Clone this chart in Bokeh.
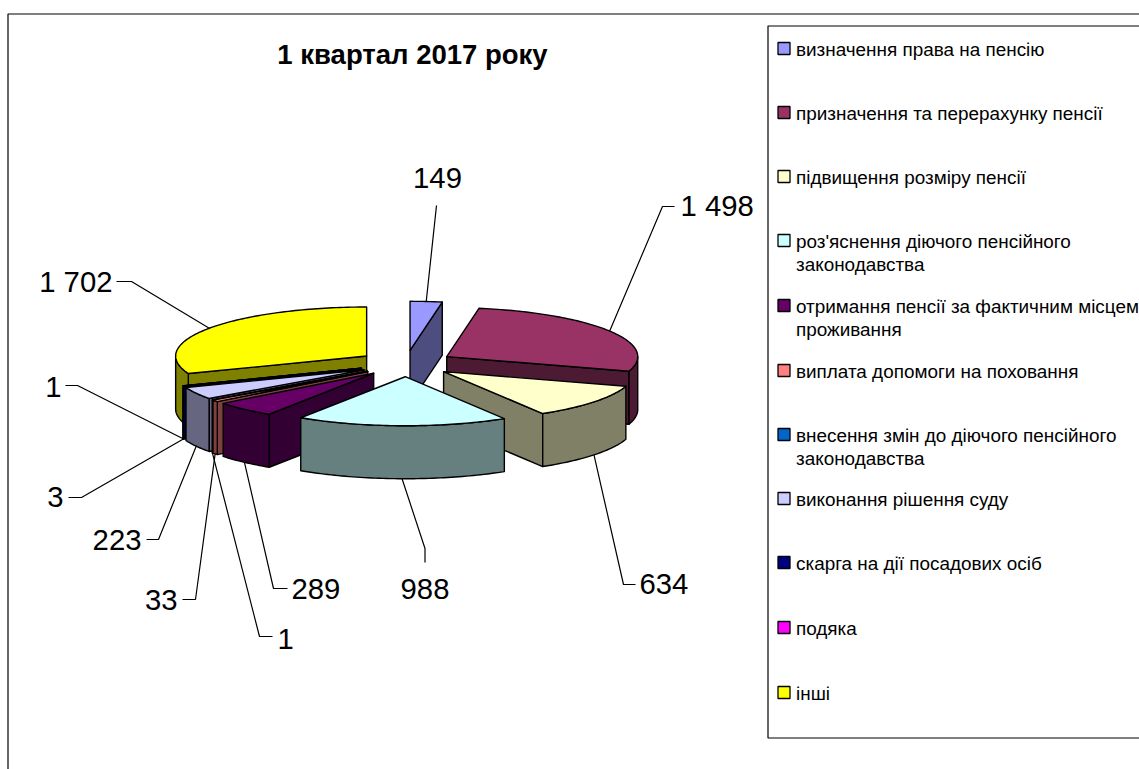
import math
from bokeh.plotting import figure
from bokeh.models import Range1d
from bokeh.core.properties import value
from bokeh.embed import file_html
from bokeh.resources import INLINE

title = "1 квартал 2017 року"
categories = [
    "визначення права на пенсію",
    "призначення та перерахунку пенсії",
    "підвищення розміру пенсії",
    "роз'яснення діючого пенсійного\nзаконодавства",
    "отримання пенсії за фактичним місцем\nпроживання",
    "виплата допомоги на поховання",
    "внесення змін до діючого пенсійного\nзаконодавства",
    "виконання рішення суду",
    "скарга на дії посадових осіб",
    "подяка",
    "інші",
]
values = [149, 1498, 634, 988, 289, 33, 1, 223, 3, 1, 1702]
top_colors = ["#9999FF", "#993366", "#FFFFCC", "#CCFFFF", "#660066", "#FF8080",
              "#0066CC", "#CCCCFF", "#000080", "#FF00FF", "#FFFF00"]
side_colors = ["#4D4D80", "#4D1A33", "#808066", "#668080", "#330033", "#804040",
               "#003366", "#666680", "#000040", "#800080", "#808000"]

# ---- layout (page pixels) ----
W, H = 1139, 769
CX, CY, RX, RY, DEPTH, EXPLODE_X, EXPLODE_Y = 405.5, 363.0, 191.0, 49.0, 53.0, 0.25, 0.27
PAINT_ORDER = [0, 1, 2, 10, 9, 8, 7, 6, 5, 4, 3]
LEGEND_Y = [49, 113, 177, 241, 306, 371, 435, 499, 563, 628, 693]
LINE_STEP = 23
# label x, y, align, elbow point, leader end next to the label
LABELS = [
    (437, 178, "center", (436, 205), None),
    (680, 206, "left", (662, 206), (674, 206)),
    (639, 584, "left", (623, 584), (635, 584)),
    (424.5, 589, "center", (424.5, 548), (424.5, 562)),
    (291, 589, "left", (273, 588), (287, 588)),
    (177, 600, "right", (195, 599), (182, 599)),
    (277, 639, "left", (259, 636), (272, 636)),
    (141, 540, "right", (158, 539), (146, 539)),
    (63, 497, "right", (81, 497), (68, 497)),
    (61, 387, "right", (77, 385), (65, 385)),
    (112, 282, "right", (131, 281), (116, 281)),
]

p = figure(width=W, height=H, x_range=Range1d(0, W), y_range=Range1d(H, 0),
           output_backend="svg", toolbar_location=None, min_border=0,
           outline_line_color=None, background_fill_color="white", border_fill_color="white")
p.axis.visible = False
p.grid.visible = False

LW = 1.4
# chart frame
p.line([7.5, 7.5, W], [H, 13.5, 13.5], line_color="black", line_width=1.2)

total = sum(values)
def frac_angle(c):
    return c / total * 2 * math.pi

edges = [0]
for v in values:
    edges.append(edges[-1] + v)

def rim(ax, ay, t):
    return ax + RX * math.sin(t), ay - RY * math.cos(t)

def arc(ax, ay, t0, t1):
    n = max(2, int((t1 - t0) / 0.02) + 1)
    pts = [rim(ax, ay, t0 + (t1 - t0) * k / (n - 1)) for k in range(n)]
    return pts

def apex(i):
    t0, t1 = frac_angle(edges[i]), frac_angle(edges[i + 1])
    m = (t0 + t1) / 2
    return CX + EXPLODE_X * RX * math.sin(m), CY - EXPLODE_Y * RY * math.cos(m), t0, t1, m

def wall(pts, color):
    low = [(x, y + DEPTH) for x, y in reversed(pts)]
    all_pts = list(pts) + low
    p.patch([a for a, _ in all_pts], [b for _, b in all_pts], fill_color=color,
            line_color="black", line_width=LW, line_join="round")

for i in PAINT_ORDER:
    ax, ay, t0, t1, m = apex(i)
    side = side_colors[i]
    if math.sin(t0) < 0:
        wall([(ax, ay), rim(ax, ay, t0)], side)
    if math.sin(t1) > 0:
        wall([(ax, ay), rim(ax, ay, t1)], side)
    lo, hi = max(t0, math.pi / 2), min(t1, 3 * math.pi / 2)
    if hi > lo:
        wall(arc(ax, ay, lo, hi), side)
    top = [(ax, ay)] + arc(ax, ay, t0, t1)
    p.patch([a for a, _ in top], [b for _, b in top], fill_color=top_colors[i],
            line_color="black", line_width=LW, line_join="round")

# leader lines and value labels
for i, (lx, ly, align, elbow, end) in enumerate(LABELS):
    ax, ay, t0, t1, m = apex(i)
    sx, sy = rim(ax, ay, m)
    if math.cos(m) < 0:
        sy += DEPTH
    xs, ys = [elbow[0], sx], [elbow[1], sy]
    if end is not None:
        xs.insert(0, end[0])
        ys.insert(0, end[1])
    p.line(xs, ys, line_color="black", line_width=1.2)
    txt = f"{values[i]:,}".replace(",", " ")
    p.text([lx], [ly - 1], text=[txt], text_font=value("Liberation Sans"), text_font_size="29.3px",
           text_align=align, text_baseline="middle", text_color="black")

# title
p.text([412], [54], text=[title], text_font=value("Liberation Sans"), text_font_size="27.5px",
       text_font_style="bold", text_align="center", text_baseline="middle", text_color="black")

# legend
p.line([W, 767.5, 767.5, W], [25.5, 25.5, 737.5, 737.5], line_color="black", line_width=1.2)
for i, name in enumerate(categories):
    y = LEGEND_Y[i]
    p.rect([783.5], [y - 1], width=12, height=12, fill_color=top_colors[i], line_color="black", line_width=1.3)
    for k, line in enumerate(name.split("\n")):
        p.text([795.5], [y + k * LINE_STEP], text=[line], text_font=value("Liberation Sans"),
               text_font_size="18.9px", text_align="left", text_baseline="middle", text_color="black")

open("out.html", "w").write(file_html(p, INLINE))
